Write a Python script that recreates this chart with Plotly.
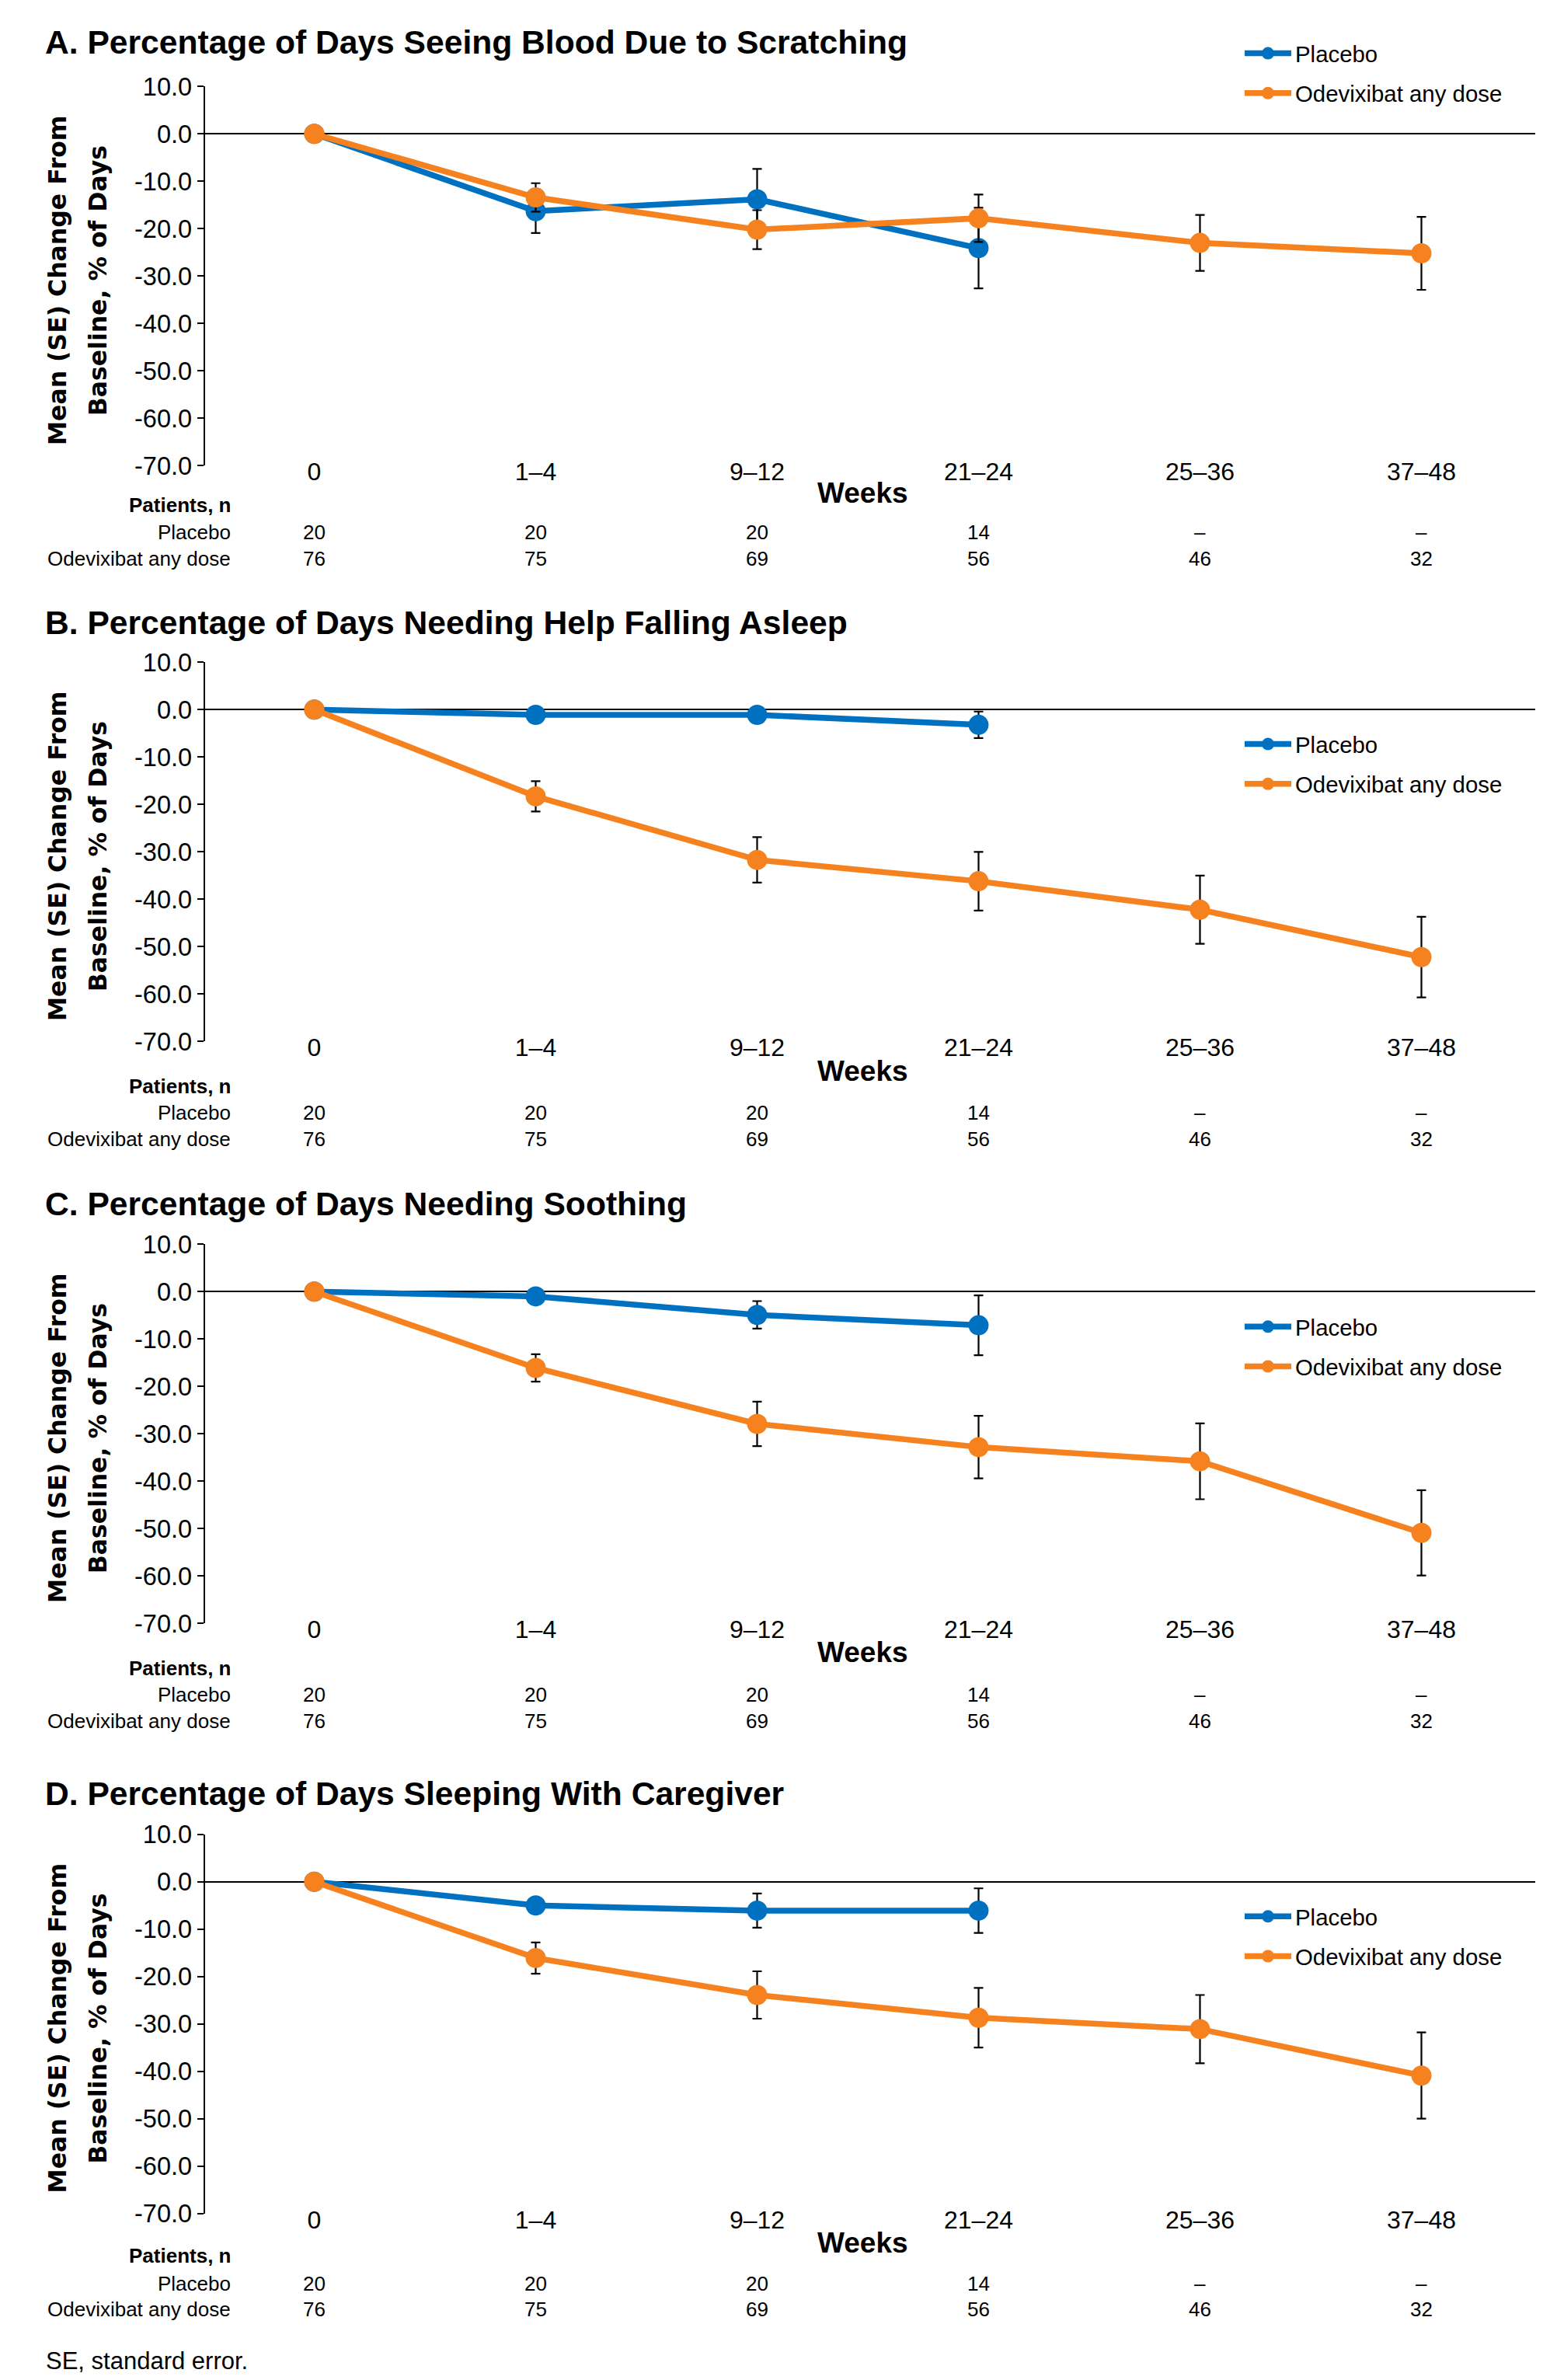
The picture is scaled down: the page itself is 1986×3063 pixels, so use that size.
import plotly.graph_objects as go

W, H = 1986, 3063

# ---- data -------------------------------------------------------------
weeks = ["0", "1–4", "9–12", "21–24", "25–36", "37–48"]
y_tick_vals = [10, 0, -10, -20, -30, -40, -50, -60, -70]
y_tick_text = ["10.0", "0.0", "-10.0", "-20.0", "-30.0", "-40.0", "-50.0", "-60.0", "-70.0"]

titles = [
    "A. Percentage of Days Seeing Blood Due to Scratching",
    "B. Percentage of Days Needing Help Falling Asleep",
    "C. Percentage of Days Needing Soothing",
    "D. Percentage of Days Sleeping With Caregiver",
]

# A. Seeing blood due to scratching
blood_placebo = [0.0, -16.3, -13.8, -24.1]
blood_placebo_se = [None, 4.6, 6.4, 8.5]
blood_odevixibat = [0.0, -13.4, -20.2, -17.8, -23.0, -25.2]
blood_odevixibat_se = [None, 3.0, 4.1, 5.0, 5.9, 7.7]

# B. Needing help falling asleep
asleep_placebo = [0.0, -1.1, -1.1, -3.2]
asleep_placebo_se = [None, 1.0, 1.0, 2.8]
asleep_odevixibat = [0.0, -18.3, -31.7, -36.2, -42.2, -52.2]
asleep_odevixibat_se = [None, 3.2, 4.8, 6.2, 7.2, 8.5]

# C. Needing soothing
soothing_placebo = [0.0, -1.0, -4.9, -7.1]
soothing_placebo_se = [None, 1.0, 2.9, 6.3]
soothing_odevixibat = [0.0, -16.1, -27.9, -32.8, -35.8, -50.9]
soothing_odevixibat_se = [None, 2.9, 4.7, 6.6, 8.0, 9.0]

# D. Sleeping with caregiver
caregiver_placebo = [0.0, -5.0, -6.1, -6.1]
caregiver_placebo_se = [None, 1.5, 3.6, 4.7]
caregiver_odevixibat = [0.0, -16.1, -23.9, -28.7, -31.1, -40.9]
caregiver_odevixibat_se = [None, 3.3, 5.0, 6.3, 7.2, 9.1]

# patients at each visit (same for all four outcomes)
n_placebo = ["20", "20", "20", "14", "–", "–"]
n_odevixibat = ["76", "75", "69", "56", "46", "32"]

placebo_series = [
    (blood_placebo, blood_placebo_se),
    (asleep_placebo, asleep_placebo_se),
    (soothing_placebo, soothing_placebo_se),
    (caregiver_placebo, caregiver_placebo_se),
]
odevixibat_series = [
    (blood_odevixibat, blood_odevixibat_se),
    (asleep_odevixibat, asleep_odevixibat_se),
    (soothing_odevixibat, soothing_odevixibat_se),
    (caregiver_odevixibat, caregiver_odevixibat_se),
]

# ---- geometry (page pixels, measured from the top) -----------------------
PLOT_LEFT, PLOT_RIGHT = 263.6, 1976.0
FIRST_CAT_PX, CAT_STEP_PX = 404.5, 285.0
panels = [
    dict(top=111.3, bottom=599.3, title=54.3, weeks=634.0, patients=650.0, row1=685.0, row2=719.4, legend=43.0),
    dict(top=852.3, bottom=1340.3, title=800.7, weeks=1378.0, patients=1397.6, row1=1431.5, row2=1466.0, legend=932.0),
    dict(top=1601.3, bottom=2089.3, title=1548.8, weeks=2126.6, patients=2146.5, row1=2181.4, row2=2215.3, legend=1681.7),
    dict(top=2360.7, bottom=2848.7, title=2307.9, weeks=2886.0, patients=2903.3, row1=2938.7, row2=2972.0, legend=2440.7),
]

BLUE = "#0070C0"
ORANGE = "#F5821F"
TEXT_FONT = "Liberation Sans, Arial, sans-serif"
YTITLE_FONT = "DejaVu Sans, Verdana, sans-serif"


def px_x(px):
    return px / W


def px_y(px):
    return 1 - px / H


x_range = [-(FIRST_CAT_PX - PLOT_LEFT) / CAT_STEP_PX, (PLOT_RIGHT - FIRST_CAT_PX) / CAT_STEP_PX]

fig = go.Figure()
layout = dict(
    width=W,
    height=H,
    margin=dict(l=0, r=0, t=0, b=0, autoexpand=False),
    paper_bgcolor="white",
    plot_bgcolor="white",
    showlegend=True,
    annotations=[],
)

for i, geo in enumerate(panels):
    k = "" if i == 0 else str(i + 1)
    xa, ya = "x" + k, "y" + k
    leg = "legend" + k

    for name, (vals, se), color in (
        ("Placebo", placebo_series[i], BLUE),
        ("Odevixibat any dose", odevixibat_series[i], ORANGE),
    ):
        fig.add_trace(
            go.Scatter(
                x=weeks[: len(vals)],
                y=vals,
                name=name,
                mode="lines+markers",
                line=dict(color=color, width=7.5),
                marker=dict(color=color, size=26, symbol="circle"),
                error_y=dict(type="data", array=se, visible=True, color="black", thickness=2.2, width=6),
                xaxis=xa,
                yaxis=ya,
                legend=leg,
                legendgroup=name + k,
                cliponaxis=False,
            )
        )

    layout["xaxis" + k] = dict(
        domain=[px_x(PLOT_LEFT), px_x(PLOT_RIGHT)],
        anchor=ya,
        type="category",
        categoryorder="array",
        categoryarray=weeks,
        range=x_range,
        showline=False,
        showgrid=False,
        zeroline=False,
        ticks="",
        tickfont=dict(family=TEXT_FONT, size=32, color="black"),
        ticklabelstandoff=-14,
        fixedrange=True,
    )
    layout["yaxis" + k] = dict(
        domain=[px_y(geo["bottom"]), px_y(geo["top"])],
        anchor=xa,
        range=[-70, 10],
        tickmode="array",
        tickvals=y_tick_vals,
        ticktext=y_tick_text,
        showline=True,
        linecolor="black",
        linewidth=2,
        ticks="outside",
        ticklen=8,
        tickwidth=2,
        tickcolor="black",
        showgrid=False,
        zeroline=True,
        zerolinecolor="black",
        zerolinewidth=2.2,
        tickfont=dict(family=TEXT_FONT, size=32.5, color="black"),
        fixedrange=True,
    )
    layout[leg] = dict(
        x=px_x(1597),
        y=px_y(geo["legend"]),
        xanchor="left",
        yanchor="top",
        bgcolor="rgba(0,0,0,0)",
        borderwidth=0,
        font=dict(family=TEXT_FONT, size=29.4, color="black"),
        itemwidth=60,
        tracegroupgap=10,
    )

    ann = layout["annotations"]
    ann.append(dict(
        text="<b>" + titles[i] + "</b>", xref="paper", yref="paper",
        x=px_x(56), y=px_y(geo["title"]), xanchor="left", yanchor="middle",
        showarrow=False, font=dict(family=TEXT_FONT, size=42.6, color="black"),
    ))
    mid = (geo["top"] + geo["bottom"]) / 2 + 6
    for text, xpx in (("Mean (SE) Change From", 74), ("Baseline, % of Days", 126)):
        ann.append(dict(
            text="<b>" + text + "</b>", xref="paper", yref="paper",
            x=px_x(xpx), y=px_y(mid), xanchor="center", yanchor="middle", textangle=-90,
            showarrow=False, font=dict(family=YTITLE_FONT, size=31.5, color="black"),
        ))
    ann.append(dict(
        text="<b>Weeks</b>", xref="paper", yref="paper",
        x=px_x(1110), y=px_y(geo["weeks"]), xanchor="center", yanchor="middle",
        showarrow=False, font=dict(family=TEXT_FONT, size=37, color="black"),
    ))
    ann.append(dict(
        text="<b>Patients, n</b>", xref="paper", yref="paper",
        x=px_x(299), y=px_y(geo["patients"]), xanchor="right", yanchor="middle",
        showarrow=False, font=dict(family=TEXT_FONT, size=26, color="black"),
    ))
    for label, counts, row in (("Placebo", n_placebo, "row1"), ("Odevixibat any dose", n_odevixibat, "row2")):
        ann.append(dict(
            text=label, xref="paper", yref="paper",
            x=px_x(299), y=px_y(geo[row]), xanchor="right", yanchor="middle",
            showarrow=False, font=dict(family=TEXT_FONT, size=26, color="black"),
        ))
        for wk, c in zip(weeks, counts):
            ann.append(dict(
                text=c, xref=xa, yref="paper",
                x=wk, y=px_y(geo[row]), xanchor="center", yanchor="middle",
                showarrow=False, font=dict(family=TEXT_FONT, size=26, color="black"),
            ))

layout["annotations"].append(dict(
    text="SE, standard error.", xref="paper", yref="paper",
    x=px_x(57), y=px_y(3038), xanchor="left", yanchor="middle",
    showarrow=False, font=dict(family=TEXT_FONT, size=31, color="black"),
))

fig.update_layout(**layout)
fig.write_html("out.html")
